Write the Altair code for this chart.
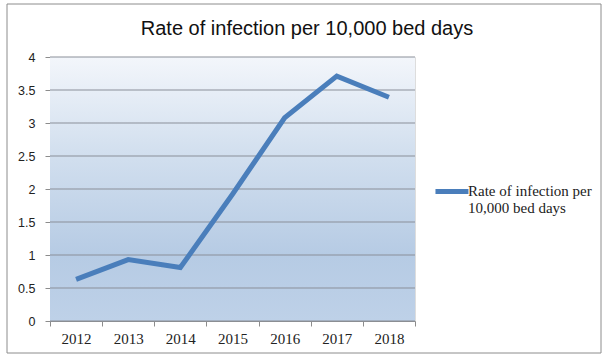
import altair as alt
import pandas as pd

# Infection rate per 10,000 bed days, by year
years = ["2012", "2013", "2014", "2015", "2016", "2017", "2018"]
rates = [0.63, 0.93, 0.81, 1.92, 3.08, 3.71, 3.39]
series_name = "Rate of infection per 10,000 bed days"
y_ticks = [0, 0.5, 1, 1.5, 2, 2.5, 3, 3.5, 4]

W, H = 365, 264

df = pd.DataFrame({"year": years, "rate": rates, "series": series_name})
grid_df = pd.DataFrame({"tick": y_ticks})
one = pd.DataFrame({"k": [0]})

y_scale = alt.Scale(domain=[0, 4], nice=False)
y_axis = alt.Axis(
    title=None,
    values=y_ticks,
    format="~g",
    labelFont="Liberation Sans",
    labelFontSize=12.5,
    labelColor="#222222",
    labelPadding=10,
    labelOverlap=False,
    tickSize=5,
    tickColor="#8c8c8c",
    domainColor="#8c8c8c",
    grid=False,
)

# Vertical gradient filling the plot area
bg = alt.Chart(one).mark_rect(
    color=alt.Gradient(
        gradient="linear",
        x1=0, x2=0, y1=0, y2=1,
        stops=[
            alt.GradientStop(color="#f3f6fb", offset=0),
            alt.GradientStop(color="#d3e0ef", offset=0.35),
            alt.GradientStop(color="#b6cbe4", offset=0.75),
            alt.GradientStop(color="#bed1e8", offset=1),
        ],
    )
).encode(
    x=alt.value(0), x2=alt.value(W), y=alt.value(0), y2=alt.value(H)
)

# Horizontal gridlines drawn over the gradient
grid = alt.Chart(grid_df).mark_rule(color="#8a8f99", strokeWidth=1).encode(
    y=alt.Y("tick:Q", scale=y_scale, axis=y_axis),
    x=alt.value(0),
    x2=alt.value(W),
)

# Outer frame around the whole chart
frame = alt.Chart(one).mark_rect(
    fill=None, stroke="#8c8c8c", strokeWidth=1
).encode(
    x=alt.value(-43), x2=alt.value(551), y=alt.value(-53), y2=alt.value(296)
)

# Chart heading
heading = alt.Chart(one).mark_text(
    text="Rate of infection per 10,000 bed days",
    font="Liberation Sans",
    fontSize=20,
    color="#111111",
    align="center",
    baseline="alphabetic",
).encode(x=alt.value(257), y=alt.value(-22))

line = alt.Chart(df).mark_line(strokeWidth=5, strokeCap="butt", strokeJoin="miter").encode(
    x=alt.X(
        "year:O",
        sort=years,
        scale=alt.Scale(paddingInner=0, paddingOuter=0),
        axis=alt.Axis(
            title=None,
            labelAngle=0,
            labelFont="Liberation Serif",
            labelFontSize=15,
            labelColor="#222222",
            labelPadding=5,
            tickBand="extent",
            tickSize=5,
            tickColor="#8c8c8c",
            domainColor="#8c8c8c",
            grid=False,
        ),
    ),
    y=alt.Y("rate:Q", scale=y_scale, axis=y_axis),
    color=alt.Color(
        "series:N",
        scale=alt.Scale(range=["#4a7ebb"]),
        legend=alt.Legend(
            title=None,
            orient="none",
            legendX=380,
            legendY=108,
            symbolType="M-0.82,0.45L1.18,0.45",
            symbolSize=1089,
            symbolStrokeWidth=5,
            symbolFillColor="transparent",
            symbolStrokeColor="#4a7ebb",
            labelFont="Liberation Serif",
            labelFontSize=15,
            labelColor="#222222",
            labelOffset=0,
            labelLimit=300,
            labelBaseline="top",
            labelExpr="['Rate of infection per', '10,000 bed days']",
            padding=0,
        ),
    ),
)

chart = alt.layer(bg, grid, line, frame, heading).properties(
    width=W,
    height=H,
    padding={"left": 50, "top": 57, "right": 187, "bottom": 34},
    autosize=alt.AutoSizeParams(type="none"),
).configure_view(stroke=None).configure(background="white")

chart.save("out.html", embed_options={"renderer": "svg", "actions": False})
